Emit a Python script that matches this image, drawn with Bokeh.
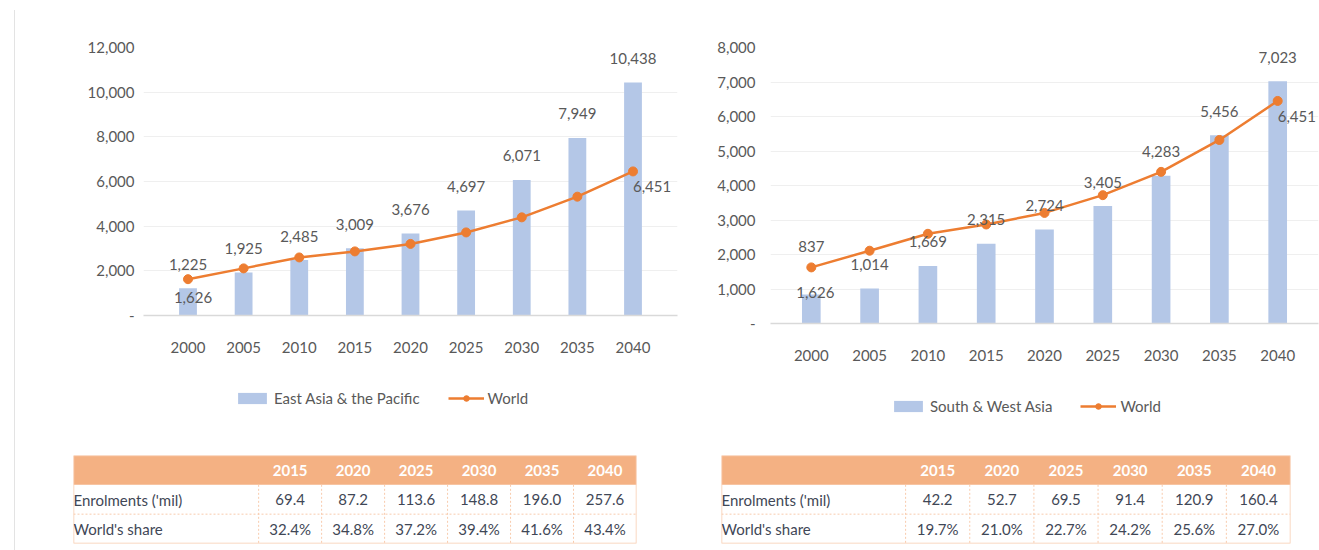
from bokeh.plotting import figure
from bokeh.models import (ColumnDataSource, Range1d, FactorRange, SingleIntervalTicker,
                          NumeralTickFormatter, Legend, LegendItem, Spacer)
from bokeh.layouts import row, column
from bokeh.core.properties import value
from bokeh.embed import file_html
from bokeh.resources import INLINE

# ---------------- data ----------------
years = ["2000", "2005", "2010", "2015", "2020", "2025", "2030", "2035", "2040"]
east_asia = [1225, 1925, 2485, 3009, 3676, 4697, 6071, 7949, 10438]
south_west_asia = [837, 1014, 1669, 2315, 2724, 3405, 4283, 5456, 7023]
world = [1626, 2110, 2600, 2870, 3205, 3720, 4395, 5320, 6451]

table_years = ["2015", "2020", "2025", "2030", "2035", "2040"]
ea_enrol = [69.4, 87.2, 113.6, 148.8, 196.0, 257.6]
ea_share = [32.4, 34.8, 37.2, 39.4, 41.6, 43.4]
swa_enrol = [42.2, 52.7, 69.5, 91.4, 120.9, 160.4]
swa_share = [19.7, 21.0, 22.7, 24.2, 25.6, 27.0]
row_labels = ["Enrolments ('mil)", "World's share"]

# ---------------- style ----------------
FONT = "Lato"
GRAY = "#595959"
BAR = "#B4C7E7"
ORANGE = "#ED7D31"
HEADER = "#F4B183"
CELL_LINE = "#F8CBAD"
TABLE_TEXT = "#3F4756"


def chart(region_vals, y_max, interval, width, height, left, right, top,
          frame_h, pad, ystand, label_offsets, world_offsets):
    p = figure(x_range=FactorRange(*years, range_padding=pad, range_padding_units="absolute"),
               y_range=Range1d(0, y_max),
               width=width, height=height, output_backend="svg", toolbar_location=None,
               min_border_left=left, min_border_right=right, min_border_top=top,
               min_border_bottom=height - top - frame_h, frame_align=False)
    p.outline_line_color = None
    p.background_fill_color = "white"
    p.border_fill_color = "white"
    p.xgrid.grid_line_color = None
    p.ygrid.grid_line_color = "#EFEFEF"
    p.ygrid.grid_line_width = 1

    p.yaxis.ticker = SingleIntervalTicker(interval=interval)
    p.yaxis.formatter = NumeralTickFormatter(format="0,0")
    p.yaxis.major_label_overrides = {0: "-"}
    p.yaxis.axis_line_color = None
    p.yaxis.major_tick_line_color = None
    p.yaxis.minor_tick_line_color = None
    p.yaxis.major_label_standoff = ystand
    p.xaxis.axis_line_color = "#D9D9D9"
    p.xaxis.axis_line_width = 1.5
    p.xaxis.major_tick_line_color = None
    p.xaxis.minor_tick_line_color = None
    p.xaxis.major_label_standoff = 20
    for ax in (p.xaxis, p.yaxis):
        ax.major_label_text_font = FONT
        ax.major_label_text_color = GRAY
        ax.major_label_text_font_size = "15px"

    src = ColumnDataSource(dict(
        year=years, val=region_vals, world=world,
        label=[f"{v:,}" for v in region_vals], off=label_offsets))
    p.vbar(x="year", top="val", width=0.32, source=src, fill_color=BAR, line_color=None)
    p.line(x="year", y="world", source=src, line_color=ORANGE, line_width=2.5)
    p.scatter(x="year", y="world", source=src, size=9, fill_color=ORANGE, line_color=ORANGE)

    p.text(x="year", y="val", text="label", source=src, y_offset="off",
           text_align="center", text_baseline="middle",
           text_font=value(FONT), text_font_size="15px", text_color=GRAY)

    wsrc = ColumnDataSource(dict(
        year=[years[0], years[-1]], world=[world[0], world[-1]],
        label=[f"{world[0]:,}", f"{world[-1]:,}"],
        xo=[world_offsets[0][0], world_offsets[1][0]],
        yo=[world_offsets[0][1], world_offsets[1][1]],
        align=["center", "left"]))
    p.text(x="year", y="world", text="label", source=wsrc, x_offset="xo", y_offset="yo",
           text_align="align", text_baseline="middle",
           text_font=value(FONT), text_font_size="15px", text_color=GRAY)
    return p


def legend_fig(region_name, region_vals, width, height, loc):
    # legend-only panel: the series are drawn outside the visible range so that
    # only their legend glyphs show
    p = figure(x_range=Range1d(-20, -19), y_range=Range1d(0, 1), width=width, height=height,
               output_backend="svg", toolbar_location=None, min_border=0,
               x_axis_location=None, y_axis_location=None, frame_align=False)
    p.outline_line_color = None
    p.grid.visible = False
    xs = list(range(len(years)))
    bars = p.vbar(x=xs, top=region_vals, width=0.32, fill_color=BAR, line_color=None)
    line = p.line(x=xs, y=world, line_color=ORANGE, line_width=2.5)
    pts = p.scatter(x=xs, y=world, size=9, fill_color=ORANGE, line_color=ORANGE)
    legend = Legend(items=[LegendItem(label=region_name, renderers=[bars]),
                           LegendItem(label="World", renderers=[line, pts])],
                    orientation="horizontal", location=loc,
                    border_line_color=None, background_fill_alpha=0,
                    label_text_font=FONT, label_text_font_size="15px",
                    label_text_color=GRAY, glyph_width=36, glyph_height=14,
                    label_standoff=4, spacing=28, margin=0, padding=4)
    p.add_layout(legend, "center")
    return p


def table(enrol, share, width, left, right, label_cols):
    n = len(table_years)
    p = figure(x_range=Range1d(-label_cols, n), y_range=Range1d(3, 0),
               width=width, height=120, output_backend="svg", toolbar_location=None,
               min_border_left=left, min_border_right=right, min_border_top=25,
               min_border_bottom=7, x_axis_location=None, y_axis_location=None,
               frame_align=False)
    p.outline_line_color = None
    p.grid.visible = False
    idx = list(range(n))
    centers = [i + 0.5 for i in idx]

    p.quad(left=[-label_cols], right=[n], top=[0], bottom=[1],
           fill_color=HEADER, line_color=None)
    p.quad(left=[-label_cols], right=[n], top=[0], bottom=[3],
           fill_color=None, line_color=CELL_LINE, line_width=1.5)
    p.segment(x0=idx, y0=[1] * n, x1=idx, y1=[3] * n,
              line_color=CELL_LINE, line_dash="2 2", line_width=1)
    p.segment(x0=[-label_cols], y0=[2], x1=[n], y1=[2],
              line_color=CELL_LINE, line_dash="2 2", line_width=1)

    p.text(x=centers, y=[0.5] * n, text=table_years, text_align="center",
           text_baseline="middle", text_font=value(FONT), text_font_size="15px",
           text_font_style="bold", text_color="white")
    p.text(x=centers, y=[1.5] * n, text=[f"{v:.1f}" for v in enrol], text_align="center",
           text_baseline="middle", text_font=value(FONT), text_font_size="15px",
           text_color=TABLE_TEXT)
    p.text(x=centers, y=[2.5] * n, text=[f"{v:.1f}%" for v in share], text_align="center",
           text_baseline="middle", text_font=value(FONT), text_font_size="15px",
           text_color=TABLE_TEXT)
    p.text(x=[-label_cols, -label_cols], y=[1.5, 2.5], text=row_labels, text_align="left",
           text_baseline="middle", text_font=value(FONT), text_font_size="15px",
           text_color=TABLE_TEXT)
    return p


left_chart = chart(east_asia, 12000, 2000, width=685, height=370, left=128, right=23,
                   top=47, frame_h=268, pad=0.3, ystand=3,
                   label_offsets=[-24] * 9, world_offsets=[(5, 18), (0, 15)])
right_chart = chart(south_west_asia, 8000, 1000, width=619, height=375, left=70, right=1,
                    top=47, frame_h=276, pad=0.2, ystand=9,
                    label_offsets=[-48] + [-24] * 8, world_offsets=[(4, 25), (0, 16)])

left_legend = legend_fig("East Asia & the Pacific", east_asia, 685, 60, (219, 23))
right_legend = legend_fig("South & West Asia", south_west_asia, 619, 55, (190, 15))

left_table = table(ea_enrol, ea_share, width=685, left=58, right=64, label_cols=2.94)
right_table = table(swa_enrol, swa_share, width=619, left=21, right=29, label_cols=2.87)

vline = column(Spacer(width=1, height=10),
               Spacer(width=1, height=540, styles={"background-color": "#E3E3E3"}))

layout = row(Spacer(width=14, height=550), vline,
             column(left_chart, left_legend, left_table),
             column(right_chart, right_legend, right_table))

open("out.html", "w").write(file_html(layout, INLINE))
